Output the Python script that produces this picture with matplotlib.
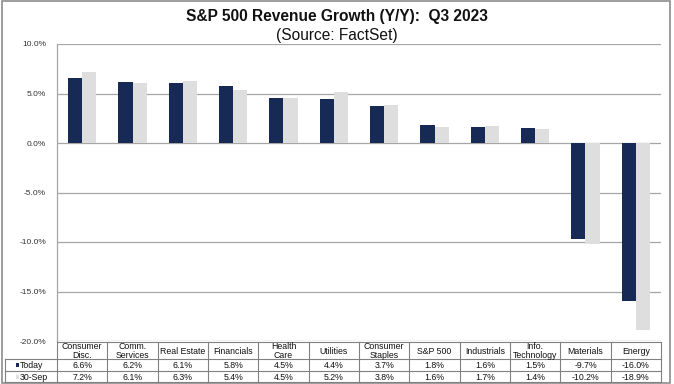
import matplotlib
matplotlib.use("Agg")
import matplotlib.pyplot as plt
from matplotlib.patches import Rectangle
from matplotlib.lines import Line2D

categories = ["Consumer\nDisc.", "Comm.\nServices", "Real Estate", "Financials", "Health\nCare",
              "Utilities", "Consumer\nStaples", "S&P 500", "Industrials", "Info.\nTechnology",
              "Materials", "Energy"]
today = [6.6, 6.2, 6.1, 5.8, 4.5, 4.4, 3.7, 1.8, 1.6, 1.5, -9.7, -16.0]
sep30 = [7.2, 6.1, 6.3, 5.4, 4.5, 5.2, 3.8, 1.6, 1.7, 1.4, -10.2, -18.9]
series_names = ["Today", "30-Sep"]
yticks = [10, 5, 0, -5, -10, -15, -20]

NAVY = "#172a55"
GRAY = "#dedede"
GRID = "#a6a6a6"
BORDER = "#808080"
FONT = "Liberation Sans"

W, H = 674, 384
fig = plt.figure(figsize=(W / 100, H / 100), dpi=100)
plt.rcParams["font.family"] = FONT

def fx(x):
    return x / W

def fy(y):
    return 1 - y / H

L, R, T, B = 57, 661, 44, 341
ax = fig.add_axes([fx(L), fy(B), fx(R) - fx(L), fy(T) - fy(B)])
n = len(categories)
xs = list(range(n))
bw = 0.28
ax.bar([x - bw / 2 for x in xs], today, width=bw, color=NAVY, zorder=3)
ax.bar([x + bw / 2 for x in xs], sep30, width=bw, color=GRAY, zorder=3)
ax.set_xlim(-0.5, n - 0.5)
ax.set_ylim(-20, 10)
ax.set_yticks(yticks)
ax.set_yticklabels([f"{v:.1f}%" for v in yticks], fontsize=6.0, color="#333333")
ax.tick_params(axis="y", length=0, pad=8)
ax.set_xticks([])
ax.grid(axis="y", color=GRID, lw=0.9, zorder=0)
for s in ["top", "right", "bottom"]:
    ax.spines[s].set_visible(False)
ax.spines["left"].set_color(GRID)
ax.spines["left"].set_linewidth(0.9)

# Title
fig.text(0.5, fy(17), "S&P 500 Revenue Growth (Y/Y):  Q3 2023", ha="center", va="center",
         fontsize=11.2, fontweight="bold", color="#111111")
fig.text(0.5, fy(35.5), "(Source: FactSet)", ha="center", va="center", fontsize=11.2,
         color="#111111")

# Data table
rows_y = [342, 359, 371, 382]
colw = (R - L) / n
lab_left = 5
lw = 0.8
def hline(x0, x1, y):
    fig.add_artist(Line2D([fx(x0), fx(x1)], [fy(y), fy(y)], color=BORDER, lw=lw))
def vline(x, y0, y1):
    fig.add_artist(Line2D([fx(x), fx(x)], [fy(y0), fy(y1)], color=BORDER, lw=lw))

hline(L, R, rows_y[0])
for y in rows_y[1:]:
    hline(lab_left, R, y)
for i in range(n + 1):
    vline(L + i * colw, rows_y[0], rows_y[3])
vline(lab_left, rows_y[1], rows_y[3])

for i, c in enumerate(categories):
    cx = L + (i + 0.5) * colw
    fig.text(fx(cx), fy((rows_y[0] + rows_y[1]) / 2 + 0.5), c, ha="center", va="center",
             fontsize=6.3, linespacing=0.95, color="#111111")
    fig.text(fx(cx), fy((rows_y[1] + rows_y[2]) / 2 + 0.5), f"{today[i]:.1f}%", ha="center",
             va="center", fontsize=6.3, color="#111111")
    fig.text(fx(cx), fy((rows_y[2] + rows_y[3]) / 2 + 0.5), f"{sep30[i]:.1f}%", ha="center",
             va="center", fontsize=6.3, color="#111111")

for r, (name, col) in enumerate(zip(series_names, [NAVY, GRAY])):
    yc = (rows_y[r + 1] + rows_y[r + 2]) / 2
    fig.add_artist(Rectangle((fx(15.5), fy(yc + 2)), fx(3.5), fy(yc - 2) - fy(yc + 2),
                             color=col, lw=0))
    fig.text(fx(20), fy(yc + 0.5), name, ha="left", va="center", fontsize=6.3, color="#111111")

# Outer frame
fig.add_artist(Rectangle((fx(2), fy(383)), fx(668), fy(0.5) - fy(383), fill=False,
                         edgecolor="#8c8c8c", lw=1.2))

fig.savefig("out.png", dpi=100)
